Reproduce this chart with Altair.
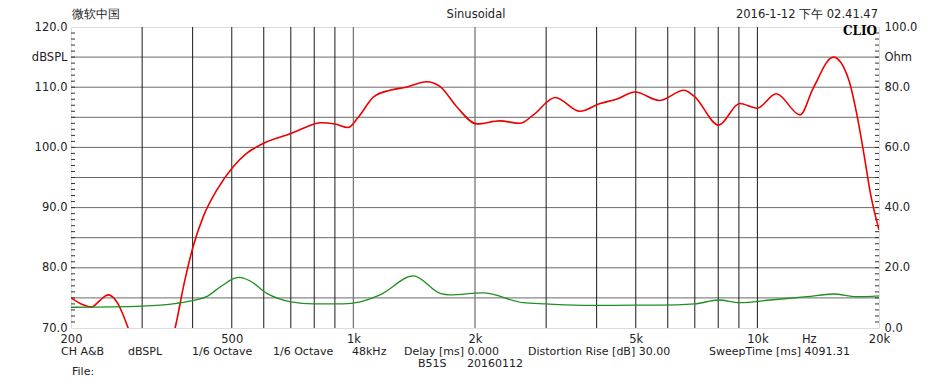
import altair as alt
import pandas as pd

# ---------------- data ----------------
spl_freq = [200, 212, 225, 236, 247, 258, 268, 277, 300, 335, 362, 380, 401, 425, 459, 504, 544,
            600, 700, 760, 828, 900, 970, 1028, 1122, 1232, 1350, 1518, 1640, 1800, 2020, 2304,
            2584, 2790, 3158, 3636, 4080, 4480, 4980, 5720, 6580, 7000, 8020, 9040, 9980, 11140,
            12760, 13740, 15420, 16840, 17600, 18460, 18980, 20000]
spl_db = [75.0, 74.0, 73.5, 74.6, 75.5, 74.6, 72.5, 70.0, 64.0, 64.0, 70.0, 77.0, 83.5, 88.5, 92.9,
          96.8, 99.0, 100.7, 102.3, 103.3, 104.1, 103.9, 103.3, 105.0, 108.4, 109.5, 110.0, 110.9,
          110.1, 106.8, 103.9, 104.4, 104.0, 105.4, 108.3, 106.0, 107.3, 108.0, 109.2, 107.8, 109.5,
          108.4, 103.7, 107.3, 106.5, 108.9, 105.4, 109.8, 115.0, 111.2, 105.7, 97.9, 92.9, 86.3]

imp_freq = [200, 300, 365, 400, 433, 469, 519, 554, 611, 700, 796, 943, 1040, 1164, 1408, 1640,
            1732, 2096, 2630, 3000, 3840, 5000, 5720, 7000, 8020, 9040, 10760, 13260, 15420,
            17600, 20000]
imp_ohm = [6.9, 7.3, 8.2, 9.1, 10.4, 13.7, 16.8, 15.7, 11.5, 8.7, 8.0, 8.0, 8.7, 11.0, 17.3, 11.5,
           11.0, 11.7, 8.4, 8.0, 7.5, 7.6, 7.6, 8.0, 9.3, 8.4, 9.3, 10.4, 11.3, 10.4, 10.7]

x_label_values = [200, 500, 1000, 2000, 5000, 10000, 13400, 20000]
left_label_values = [70, 80, 90, 100, 110, 115, 120]
right_label_values = [0, 20, 40, 60, 80, 90, 100]
vgrid_dark = [300, 400, 500, 600, 700, 800, 900, 3000, 4000, 5000, 6000, 7000, 8000, 9000, 10000]
vgrid_gray = [1000, 2000]
hgrid_db = [75, 80, 85, 90, 95, 100, 105, 110, 115]
minor_db = list(range(71, 120))

title_left = "微软中国"
title_mid = "Sinusoidal"
title_right = "2016-1-12 下午 02.41.47"
brand = "CLIO"
footer_items = ["CH A&B", "dBSPL", "1/6 Octave", "1/6 Octave", "48kHz", "Delay [ms] 0.000",
                "Distortion Rise [dB] 30.00", "SweepTime [ms] 4091.31"]
footer_x = [-10, 57, 121, 202, 281, 333, 457, 638]
footer2_items = ["B51S", "20160112"]
footer2_x = [347, 396]
file_label = "File:"

FONT = "DejaVu Sans"
W, H = 808, 301

xscale = alt.Scale(type="log", domain=[200, 20000], nice=False)
yscale = alt.Scale(domain=[70, 120], nice=False, zero=False)
oscale = alt.Scale(domain=[0, 100], nice=False, zero=False)

x_axis = alt.Axis(values=x_label_values, grid=False, ticks=False, domain=False, title=None,
                  labelExpr="datum.value == 13400 ? 'Hz' : (datum.value >= 1000 ? (datum.value/1000) + 'k' : datum.value)",
                  labelFont=FONT, labelFontSize=11.5, labelColor="#222", labelPadding=5,
                  labelOverlap=False, labelFlush=False)
y_axis = alt.Axis(orient="left", values=left_label_values, grid=False, ticks=False, domain=False, title=None,
                  labelExpr="datum.value == 115 ? 'dBSPL' : format(datum.value, '.1f')",
                  labelFont=FONT, labelFontSize=11.5, labelColor="#222", labelPadding=4,
                  labelOverlap=False, labelFlush=False)
o_axis = alt.Axis(orient="right", values=right_label_values, grid=False, ticks=False, domain=False, title=None,
                  labelExpr="datum.value == 90 ? 'Ohm' : format(datum.value, '.1f')",
                  labelFont=FONT, labelFontSize=11.5, labelColor="#222", labelPadding=5,
                  labelOverlap=False, labelFlush=False)

spl_df = pd.DataFrame({"f": spl_freq, "db": spl_db})
imp_df = pd.DataFrame({"f": imp_freq, "ohm": imp_ohm})

hgrid = alt.Chart(pd.DataFrame({"db": hgrid_db})).mark_rule(color="#6a6a6a", strokeWidth=1).encode(
    y=alt.Y("db:Q", scale=yscale, axis=y_axis))
vdark = alt.Chart(pd.DataFrame({"f": vgrid_dark})).mark_rule(color="#1a1a1a", strokeWidth=1).encode(
    x=alt.X("f:Q", scale=xscale, axis=x_axis))
vgray = alt.Chart(pd.DataFrame({"f": vgrid_gray})).mark_rule(color="#777777", strokeWidth=1.3).encode(
    x=alt.X("f:Q", scale=xscale, axis=x_axis))
lticks = alt.Chart(pd.DataFrame({"db": minor_db})).mark_rule(color="#333333", strokeWidth=1).encode(
    y=alt.Y("db:Q", scale=yscale, axis=y_axis), x=alt.value(0), x2=alt.value(4))
rticks = alt.Chart(pd.DataFrame({"db": minor_db})).mark_rule(color="#333333", strokeWidth=1).encode(
    y=alt.Y("db:Q", scale=yscale, axis=y_axis), x=alt.value(W - 4), x2=alt.value(W))

red = alt.Chart(spl_df).mark_line(color="#ee0000", strokeWidth=1.6, interpolate="monotone", clip=True).encode(
    x=alt.X("f:Q", scale=xscale, axis=x_axis),
    y=alt.Y("db:Q", scale=yscale, axis=y_axis),
)

green = alt.Chart(imp_df).mark_line(color="#1f8f1f", strokeWidth=1.3, interpolate="monotone", clip=True).encode(
    x=alt.X("f:Q", scale=xscale, axis=x_axis),
    y=alt.Y("ohm:Q", scale=oscale, axis=o_axis),
)


def txt(s, x, y, align="left", **kw):
    base = dict(font=FONT, fontSize=11, color="#222", align=align, baseline="middle")
    base.update(kw)
    return alt.Chart(pd.DataFrame({"t": [s]})).mark_text(**base).encode(
        text="t:N", x=alt.value(x), y=alt.value(y))


texts = [
    txt(title_left, 1, -12, fontSize=11.5),
    txt(title_mid, 405, -12, align="center", fontSize=11.5),
    txt(title_right, 807, -12, align="right", fontSize=11.5),
    txt(brand, 806, 4, align="right", font="DejaVu Serif", fontWeight="bold", fontSize=12, color="#000"),
    txt(file_label, 1, 345),
]
for s, x in zip(footer_items, footer_x):
    texts.append(txt(s, x, 325))
for s, x in zip(footer2_items, footer2_x):
    texts.append(txt(s, x, 337))

left_group = alt.layer(hgrid, vdark, vgray, lticks, rticks, red, *texts)
chart = alt.layer(left_group, green).resolve_scale(y="independent").properties(
    width=W, height=H,
    padding={"left": 63, "top": 19, "right": 64, "bottom": 56},
    autosize=alt.AutoSizeParams(type="none"),
).configure_view(stroke="#000000", strokeWidth=1.5).configure(background="white")

chart.save("out.html", embed_options={"renderer": "svg", "actions": False})
